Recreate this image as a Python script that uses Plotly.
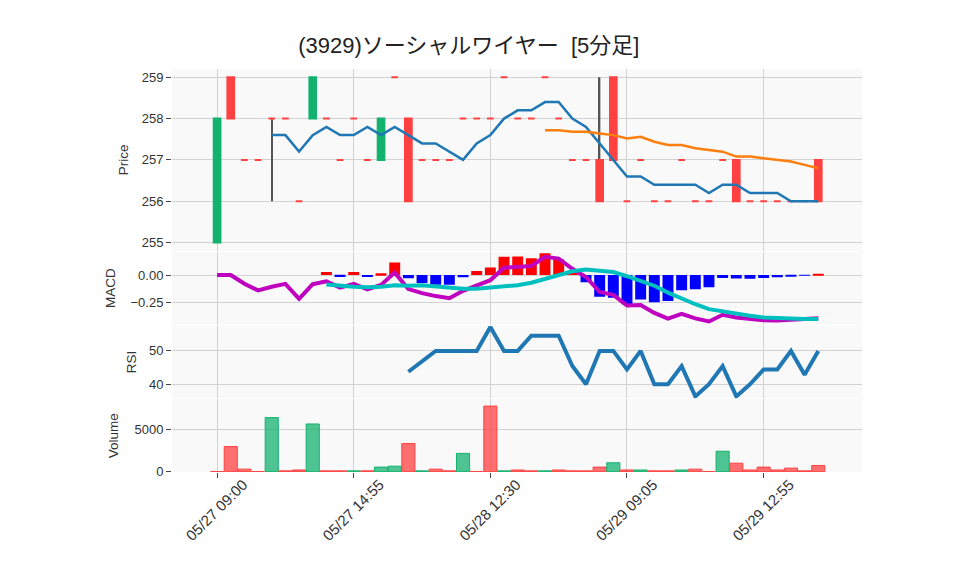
import plotly.graph_objects as go
from plotly.subplots import make_subplots

# 5-minute bars (only bars with trades)
times = [
    "05/27 09:00", "05/27 09:05", "05/27 09:15", "05/27 09:40", "05/27 10:10",
    "05/27 10:35", "05/27 11:20", "05/27 12:35", "05/27 13:10", "05/27 14:05",
    "05/27 14:55", "05/28 09:00", "05/28 09:05", "05/28 09:20", "05/28 09:45",
    "05/28 10:15", "05/28 10:50", "05/28 11:05", "05/28 11:10", "05/28 11:25",
    "05/28 12:30", "05/28 12:45", "05/28 13:05", "05/28 13:30", "05/28 13:50",
    "05/28 14:15", "05/28 14:30", "05/28 14:40", "05/28 14:50", "05/28 14:55",
    "05/29 09:05", "05/29 09:15", "05/29 09:30", "05/29 09:50", "05/29 10:10",
    "05/29 10:35", "05/29 11:00", "05/29 11:20", "05/29 12:35", "05/29 12:45",
    "05/29 12:55", "05/29 13:20", "05/29 13:45", "05/29 14:10", "05/29 14:35",
]
tick_labels = ["05/27 09:00", "05/27 14:55", "05/28 12:30", "05/29 09:05", "05/29 12:55"]

opens = [255, 259, 257, 257, 258, 258, 256, 258, 258, 257, 258, 257, 257, 259, 258,
         257, 257, 257, 258, 258, 258, 259, 258, 258, 259, 258, 257, 257, 257, 259,
         256, 257, 256, 256, 257, 256, 256, 257, 257, 256, 256, 256, 256, 256, 257]
highs = [258, 259, 257, 257, 258, 258, 256, 259, 258, 257, 258, 257, 258, 259, 258,
         257, 257, 257, 258, 258, 258, 259, 258, 258, 259, 258, 257, 257, 259, 259,
         256, 257, 256, 256, 257, 256, 256, 257, 257, 256, 256, 256, 256, 256, 257]
lows = [255, 258, 257, 257, 256, 258, 256, 258, 258, 257, 258, 257, 257, 259, 256,
        257, 257, 257, 258, 258, 258, 259, 258, 258, 259, 258, 257, 257, 256, 257,
        256, 257, 256, 256, 257, 256, 256, 257, 256, 256, 256, 256, 256, 256, 256]
closes = [258, 258, 257, 257, 258, 258, 256, 259, 258, 257, 258, 257, 258, 259, 256,
          257, 257, 257, 258, 258, 258, 259, 258, 258, 259, 258, 257, 257, 256, 257,
          256, 257, 256, 256, 257, 256, 256, 257, 256, 256, 256, 256, 256, 256, 256]
volumes = [0, 2950, 300, 0, 6350, 100, 200, 5600, 100, 100, 100, 100, 540, 650, 3300,
           100, 300, 100, 2150, 0, 7700, 100, 200, 100, 100, 200, 100, 100, 540, 1050,
           200, 200, 100, 100, 200, 300, 0, 2400, 1000, 200, 540, 200, 420, 100, 730]

# moving averages (5 from bar 4, 25 from bar 24)
sma5 = [257.6, 257.6, 257.2, 257.6, 257.8, 257.6, 257.6, 257.8, 257.6, 257.8, 257.6,
        257.4, 257.4, 257.2, 257.0, 257.4, 257.6, 258.0, 258.2, 258.2, 258.4, 258.4,
        258.0, 257.8, 257.4, 257.0, 256.6, 256.6, 256.4, 256.4, 256.4, 256.4, 256.2,
        256.4, 256.4, 256.2, 256.2, 256.2, 256.0, 256.0, 256.0]
sma25 = [257.72, 257.72, 257.68, 257.68, 257.64, 257.60, 257.52, 257.56, 257.44,
         257.36, 257.36, 257.28, 257.24, 257.20, 257.08, 257.08, 257.04, 257.00,
         256.96, 256.88, 256.80]

macd = [0.0, 0.0, -0.080, -0.141, -0.108, -0.081, -0.218, -0.084, -0.058, -0.116,
        -0.081, -0.132, -0.091, 0.022, -0.129, -0.166, -0.193, -0.212, -0.145, -0.091,
        -0.047, 0.067, 0.077, 0.083, 0.167, 0.151, 0.057, -0.018, -0.156, -0.182,
        -0.280, -0.275, -0.347, -0.399, -0.356, -0.398, -0.426, -0.364, -0.390,
        -0.407, -0.415, -0.417, -0.413, -0.406, -0.396]
# signal and histogram start at bar 8
signal = [-0.086, -0.099, -0.108, -0.113, -0.108, -0.093, -0.099, -0.093, -0.105,
          -0.122, -0.125, -0.126, -0.117, -0.099, -0.093, -0.070, -0.033, 0.006,
          0.035, 0.050, 0.042, 0.027, -0.011, -0.050, -0.098, -0.161, -0.217, -0.268,
          -0.313, -0.336, -0.359, -0.373, -0.389, -0.397, -0.398, -0.404, -0.404]
hist = [0.028, -0.018, 0.027, -0.019, 0.017, 0.115, -0.030, -0.073, -0.088, -0.090,
        -0.020, 0.036, 0.070, 0.167, 0.170, 0.153, 0.199, 0.145, 0.021, -0.067,
        -0.198, -0.209, -0.269, -0.224, -0.249, -0.238, -0.139, -0.130, -0.113,
        -0.027, -0.031, -0.033, -0.026, -0.020, -0.015, -0.002, 0.008]
# RSI starts at bar 14
rsi = [43.75, 47.06, 50, 50, 50, 50, 57.14, 50, 50, 54.55, 54.55, 54.55, 45.45, 40,
       50, 50, 44.44, 50, 40, 40, 45.45, 36.36, 40, 45.45, 36.36, 40, 44.44, 44.44,
       50, 42.86, 50]

GREEN = "#13B26E"
RED = "#FF4141"
GRID = "#d2d2d2"

n = len(times)
body = [i for i in range(n) if opens[i] != closes[i]]
doji = [i for i in range(n) if opens[i] == closes[i]]

fig = make_subplots(rows=4, cols=1, shared_xaxes=True, vertical_spacing=0.0025,
                    row_heights=[0.5, 0.2, 0.2, 0.2])

# wicks
fig.add_trace(go.Bar(x=times, y=[h - l for h, l in zip(highs, lows)], base=lows,
                     width=0.1, marker_color="#555555", marker_line_width=0,
                     hoverinfo="skip"), row=1, col=1)

fig.add_trace(go.Candlestick(
    x=[times[i] for i in body],
    open=[opens[i] for i in body], close=[closes[i] for i in body],
    high=[max(opens[i], closes[i]) for i in body],
    low=[min(opens[i], closes[i]) for i in body],
    increasing=dict(line=dict(color=GREEN, width=2), fillcolor=GREEN),
    decreasing=dict(line=dict(color=RED, width=2), fillcolor=RED),
), row=1, col=1)

fig.add_trace(go.Candlestick(
    x=[times[i] for i in doji],
    open=[opens[i] for i in doji], close=[closes[i] for i in doji],
    high=[closes[i] for i in doji], low=[closes[i] for i in doji],
    increasing=dict(line=dict(color=RED, width=2), fillcolor=RED),
    decreasing=dict(line=dict(color=RED, width=2), fillcolor=RED),
), row=1, col=1)

fig.add_trace(go.Scatter(x=times[4:], y=sma5, mode="lines",
                         line=dict(color="#1f77b4", width=2.5)), row=1, col=1)
fig.add_trace(go.Scatter(x=times[24:], y=sma25, mode="lines",
                         line=dict(color="#ff7f0e", width=2.5)), row=1, col=1)

# MACD
fig.add_trace(go.Bar(x=times[8:], y=hist, width=0.8, marker_line_width=0,
                     marker_color=["red" if v >= 0 else "blue" for v in hist]),
              row=2, col=1)
fig.add_trace(go.Scatter(x=times, y=macd, mode="lines",
                         line=dict(color="#bf00bf", width=4)), row=2, col=1)
fig.add_trace(go.Scatter(x=times[8:], y=signal, mode="lines",
                         line=dict(color="#00bfbf", width=4)), row=2, col=1)

# RSI
fig.add_trace(go.Scatter(x=times[14:], y=rsi, mode="lines",
                         line=dict(color="#1f77b4", width=4)), row=3, col=1)

# Volume
vol_up = [i > 0 and closes[i] > closes[i - 1] for i in range(n)]
fig.add_trace(go.Bar(
    x=times, y=volumes, width=0.96,
    marker=dict(color=["rgba(19,178,110,0.75)" if u else "rgba(255,65,65,0.75)" for u in vol_up],
                line=dict(color=[GREEN if u else RED for u in vol_up], width=1)),
), row=4, col=1)

fig.update_layout(
    width=958, height=575,
    margin=dict(l=164, r=104, t=61, b=111),
    showlegend=False,
    barmode="overlay",
    plot_bgcolor="#f9f9f9",
    paper_bgcolor="white",
    font=dict(family="Arial, Liberation Sans, Noto Sans CJK JP", size=13, color="#333"),
    title=dict(text="(3929)ソーシャルワイヤー  [5分足]", x=0.481, xanchor="center",
               y=0.936, yanchor="middle", font=dict(size=22, color="#222")),
)

fig.update_xaxes(type="category", categoryorder="array", categoryarray=times,
                 range=[-3.3, 47.2], tickmode="array", tickvals=tick_labels,
                 showgrid=True, gridcolor=GRID, zeroline=False, showline=False,
                 rangeslider_visible=False, ticks="")
fig.update_xaxes(ticks="outside", ticklen=5, tickcolor="#444", tickangle=-45,
                 tickfont=dict(size=15), ticklabelshift=26, ticklabelstandoff=-8,
                 row=4, col=1)
fig.update_yaxes(showgrid=True, gridcolor=GRID, zeroline=False, showline=False,
                 ticks="outside", ticklen=5, tickcolor="#444",
                 title_font=dict(size=13.5))

fig.update_yaxes(title_text="Price", title_standoff=9, range=[254.8, 259.2], dtick=1,
                 row=1, col=1)
fig.update_yaxes(title_text="MACD", title_standoff=11, range=[-0.454, 0.213],
                 tickvals=[-0.25, 0], tickformat=".2f", row=2, col=1)
fig.update_yaxes(title_text="RSI", title_standoff=9, range=[35.8, 57.6], dtick=10,
                 row=3, col=1)
fig.update_yaxes(title_text="Volume", title_standoff=12, range=[-35, 8500],
                 tickvals=[0, 5000], tickformat="d", row=4, col=1)

fig.write_html("out.html")
